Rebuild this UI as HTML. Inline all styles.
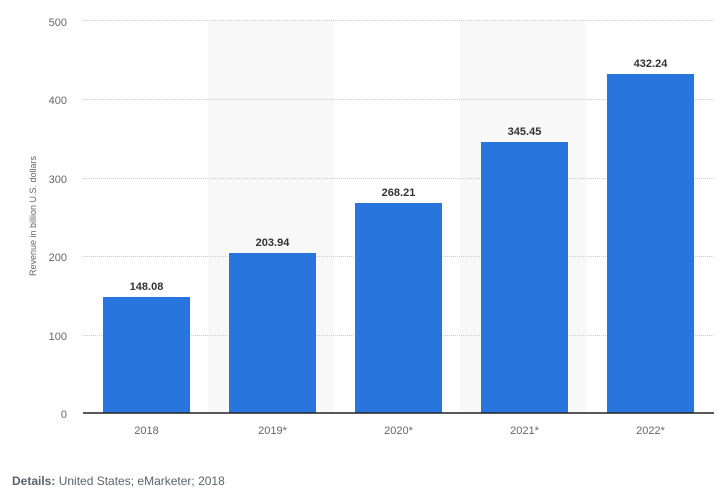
<!DOCTYPE html>
<html><head><style>body{margin:0;background:#fff;}svg{display:block;font-family:"Liberation Sans",sans-serif;}</style></head><body>
<svg width="726" height="497" xmlns="http://www.w3.org/2000/svg">
<rect x="208" y="20" width="126" height="393" fill="#f8f8f8"/>
<rect x="460" y="20" width="126" height="393" fill="#f8f8f8"/>
<g stroke="#ccc" stroke-dasharray="1,1">
<line x1="83" x2="714" y1="20.5" y2="20.5"/><line x1="83" x2="714" y1="99.5" y2="99.5"/><line x1="83" x2="714" y1="178.5" y2="178.5"/><line x1="83" x2="714" y1="256.5" y2="256.5"/><line x1="83" x2="714" y1="335.5" y2="335.5"/>
</g>
<g font-size="11" fill="#666" text-anchor="end">
<text x="67" y="26">500</text><text x="67" y="104">400</text><text x="67" y="183">300</text><text x="67" y="261">200</text><text x="67" y="340">100</text><text x="67" y="418">0</text>
</g>
<text transform="translate(36,216) rotate(-90)" font-size="9" fill="#666" text-anchor="middle">Revenue in billion U.S. dollars</text>
<g fill="#2876dd">
<rect x="103" y="297" width="87" height="116"/>
<rect x="229" y="253" width="87" height="160"/>
<rect x="355" y="203" width="87" height="210"/>
<rect x="481" y="142" width="87" height="271"/>
<rect x="607" y="74" width="87" height="339"/>
</g>
<line x1="83" x2="714" y1="413" y2="413" stroke="#222" stroke-width="1.5"/>
<g font-size="11" font-weight="bold" fill="#333" text-anchor="middle">
<text x="146.5" y="290">148.08</text><text x="272.5" y="246">203.94</text><text x="398.5" y="196">268.21</text><text x="524.5" y="135">345.45</text><text x="650.5" y="67">432.24</text>
</g>
<g font-size="11" fill="#666" text-anchor="middle">
<text x="146.5" y="434">2018</text><text x="272.5" y="434">2019*</text><text x="398.5" y="434">2020*</text><text x="524.5" y="434">2021*</text><text x="650.5" y="434">2022*</text>
</g>
<text x="12" y="485" font-size="12" fill="#5a6370"><tspan font-weight="bold">Details:</tspan> United States; eMarketer; 2018</text>
</svg>
</body></html>
